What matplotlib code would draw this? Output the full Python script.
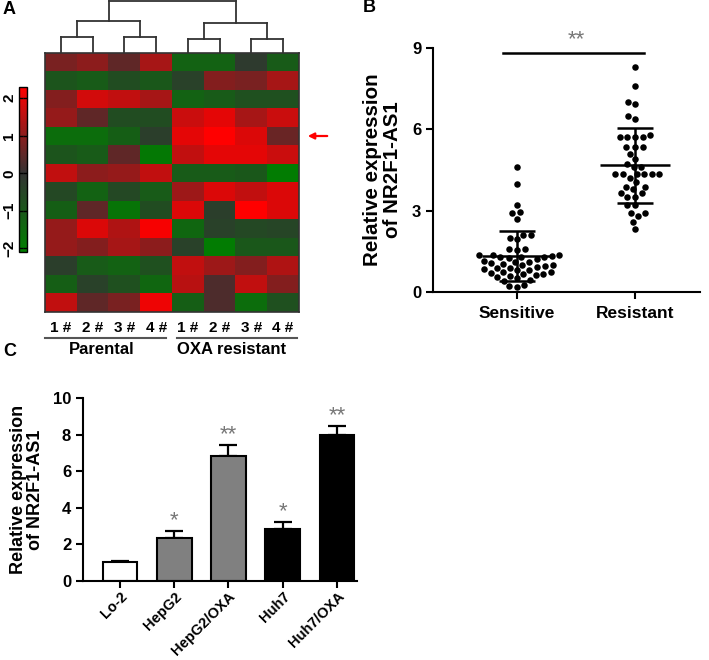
import numpy as np
import matplotlib.pyplot as plt
from matplotlib.colors import LinearSegmentedColormap

plt.rcParams['font.family'] = ['Liberation Sans', 'DejaVu Sans']
plt.rcParams['font.weight'] = 'bold'
plt.rcParams['axes.labelweight'] = 'bold'

W, H = 709, 660

# ---- panel A: heatmap values (14 lncRNAs x 8 samples)
heat = np.array([
    [0.8, 1.0, 0.5, 1.3, -1.3, -1.3, -0.2, -1.1],
    [-0.9, -1.1, -0.7, -1.0, -0.4, 0.9, 0.8, 1.3],
    [0.9, 1.8, 1.6, 1.3, -1.3, -1.1, -0.8, -0.8],
    [1.1, 0.5, -0.7, -0.7, 1.7, 2.0, 1.3, 1.7],
    [-1.6, -1.6, -1.2, -0.3, 2.0, 2.3, 1.9, 0.6],
    [-0.9, -1.1, 0.5, -1.9, 1.6, 2.0, 2.0, 1.7],
    [1.6, 1.0, 1.1, 1.6, -1.1, -1.1, -1.0, -2.0],
    [-0.6, -1.3, -0.6, -1.1, 1.2, 1.9, 1.6, 1.9],
    [-1.2, 0.5, -1.8, -0.7, 1.9, -0.3, 2.3, 1.9],
    [1.1, 1.9, 1.4, 2.2, -1.4, -0.4, -0.6, -0.5],
    [1.1, 0.9, 1.3, 1.0, -0.4, -2.0, -1.0, -1.0],
    [-0.3, -1.1, -1.3, -0.8, 1.6, 1.2, 0.9, 1.4],
    [-1.2, -0.4, -0.8, -1.4, 1.5, 0.3, 1.6, 0.9],
    [1.6, 0.5, 0.8, 2.1, -1.2, 0.3, -1.6, -0.8],
])
sample_labels = ['1 #', '2 #', '3 #', '4 #', '1 #', '2 #', '3 #', '4 #']
group_labels = ['Parental', 'OXA resistant']
cbar_ticks = [-2, -1, 0, 1, 2]
# dendrogram merges: (node a, node b, height); leaves are 0..7
merges = [(0, 1, 16), (2, 3, 16), (4, 5, 14), (6, 7, 14),
          (8, 9, 32), (10, 11, 30), (12, 13, 52)]

# ---- panel B: individual samples
groups_b = ['Sensitive', 'Resistant']
sensitive = [4.62, 4.0, 3.21, 2.95, 2.9, 2.69, 2.1, 2.12, 1.95, 2.0, 1.6, 1.58,
             1.56, 1.38, 1.36, 1.35, 1.33, 1.3, 1.3, 1.28, 1.25, 1.2, 1.15, 1.12,
             1.1, 1.08, 1.05, 1.0, 1.0, 0.95, 0.92, 0.9, 0.88, 0.85, 0.82, 0.8,
             0.75, 0.72, 0.7, 0.68, 0.65, 0.62, 0.6, 0.55, 0.5, 0.45, 0.4, 0.25,
             0.22, 0.2]
resistant = [8.31, 7.61, 7.02, 6.92, 6.39, 6.49, 5.79, 5.72, 5.72, 5.72, 5.72,
             5.34, 5.34, 5.34, 5.09, 4.89, 4.71, 4.6, 4.6, 4.34, 4.34, 4.34, 4.34,
             4.34, 4.34, 4.22, 4.05, 3.89, 3.89, 3.79, 3.64, 3.64, 3.52, 3.52,
             3.21, 3.21, 2.9, 2.9, 2.8, 2.59, 2.32]

# ---- panel C: cell lines
cells = ['Lo-2', 'HepG2', 'HepG2/OXA', 'Huh7', 'Huh7/OXA']
expr = [1.04, 2.33, 6.85, 2.84, 7.96]
err = [0.05, 0.40, 0.58, 0.40, 0.51]
bar_colors = ['white', '#808080', '#808080', 'black', 'black']
stars = ['', '*', '**', '*', '**']


def rect(x0, y0, x1, y1):
    # pixel box (top-left origin) -> figure fraction
    return [x0 / W, 1 - y1 / H, (x1 - x0) / W, (y1 - y0) / H]


def swarm(vals, d, sy, sx):
    # simple beeswarm: offsets (data units) so dots sit d px apart
    placed = []
    out = np.zeros(len(vals))
    order = np.argsort(vals)
    for i in order:
        y = vals[i] * sy
        bad = []
        for (px, py) in placed:
            dy = abs(py - y)
            if dy < d:
                w = np.sqrt(d * d - dy * dy)
                bad.append((px - w, px + w))
        cands = [0.0] + [b for iv in bad for b in iv]
        cands.sort(key=abs)
        for c in cands:
            if all(not (lo + 1e-6 < c < hi - 1e-6) for lo, hi in bad):
                break
        placed.append((c, y))
        out[i] = c / sx
    return out


fig = plt.figure(figsize=(W / 100, H / 100), dpi=100)

# ================= A
cmap = LinearSegmentedColormap.from_list(
    'gbr', [(0.0, (0, 0.5, 0)), (2.1 / 4.4, (0.2, 0.2, 0.2)), (1.0, (1, 0, 0))])
axh = fig.add_axes(rect(45, 53, 299, 312))
im = axh.imshow(heat, cmap=cmap, vmin=-2.1, vmax=2.3, aspect='auto',
                extent=(0, 8, 14, 0), interpolation='nearest')
axh.set_xticks([])
axh.set_yticks([])
for s in axh.spines.values():
    s.set_color('#333333')
    s.set_linewidth(1.2)

axd = fig.add_axes(rect(45, 0, 299, 53))
xs = {i: i + 0.5 for i in range(8)}
hs = {i: 0 for i in range(8)}
for k, (a, b, h) in enumerate(merges):
    n = 8 + k
    axd.plot([xs[a], xs[a]], [hs[a], h], color='#333333', lw=1.3)
    axd.plot([xs[b], xs[b]], [hs[b], h], color='#333333', lw=1.3)
    axd.plot([xs[a], xs[b]], [h, h], color='#333333', lw=1.3)
    xs[n] = (xs[a] + xs[b]) / 2
    hs[n] = h
axd.set_xlim(0, 8)
axd.set_ylim(0, 53)
axd.axis('off')

cax = fig.add_axes(rect(19, 87, 27, 252))
cb = fig.colorbar(im, cax=cax, ticks=cbar_ticks)
cb.outline.set_linewidth(1)
cax.yaxis.set_ticks_position('both')
cax.tick_params(axis='y', direction='in', length=3, width=1,
                labelleft=True, labelright=False, labelsize=11, pad=2)
cax.set_yticklabels(['\u22122', '\u22121', '0', '1', '2'], rotation=90,
                    va='center', fontweight='bold')

for i, lab in enumerate(sample_labels):
    fig.text((45 + 31.75 * (i + 0.5)) / W, 1 - 328 / H, lab, ha='center',
             va='center', fontsize=11, fontweight='bold')
fig.add_artist(plt.Line2D([45 / W, 166 / W], [1 - 338 / H] * 2,
                          color='#555555', lw=1.5))
fig.add_artist(plt.Line2D([177 / W, 297 / W], [1 - 338 / H] * 2,
                          color='#555555', lw=1.5))
fig.text(102 / W, 1 - 349 / H, group_labels[0], ha='center', va='center',
         fontsize=12, fontweight='bold')
fig.text(232 / W, 1 - 349 / H, group_labels[1], ha='center', va='center',
         fontsize=12, fontweight='bold')
axh.annotate('', xy=(305, H - 136), xycoords='figure pixels',
             xytext=(330, H - 136), textcoords='figure pixels',
             arrowprops=dict(arrowstyle='-|>', color='red', lw=1.6,
                             mutation_scale=9))
fig.text(3 / W, 1 - 9 / H, 'A', fontsize=13, fontweight='bold', va='center')

# ================= B
axb = fig.add_axes(rect(433, 48, 700, 292))
sy_b, sx_b = 244 / 9, 118.0
for k, vals in enumerate([sensitive, resistant]):
    vals = np.array(vals)
    off = swarm(vals, 7.6, sy_b, sx_b)
    axb.scatter(k + off, vals, s=22, color='black', zorder=3, linewidths=0)
    m, sd = vals.mean(), vals.std(ddof=1)
    axb.hlines(m, k - 0.3, k + 0.3, color='black', lw=1.8, zorder=4)
    axb.hlines([m - sd, m + sd], k - 0.155, k + 0.155, color='black', lw=1.8,
               zorder=4)
    axb.vlines(k, m - sd, m + sd, color='black', lw=1.8, zorder=4)
axb.plot([-0.12, 1.08], [8.82, 8.82], color='black', lw=1.8, clip_on=False)
axb.text(0.5, 9.3, '**', ha='center', va='center', fontsize=16,
         color='#777777', fontweight='normal')
axb.set_xlim(-0.712, 1.551)
axb.set_ylim(0, 9)
axb.set_yticks([0, 3, 6, 9])
axb.set_xticks([0, 1])
axb.set_xticklabels(groups_b, fontsize=12.5, fontweight='bold')
axb.tick_params(axis='y', labelsize=12, width=1.5, length=5)
axb.tick_params(axis='x', width=1.5, length=5, pad=5)
for lab in axb.get_yticklabels():
    lab.set_fontweight('bold')
axb.spines['top'].set_visible(False)
axb.spines['right'].set_visible(False)
axb.spines['left'].set_linewidth(1.5)
axb.spines['bottom'].set_linewidth(1.5)
axb.set_ylabel('Relative expression\nof NR2F1-AS1', fontsize=14.8,
               fontweight='bold', labelpad=7, linespacing=1.05)
fig.text(363 / W, 1 - 8 / H, 'B', fontsize=13, fontweight='bold', va='center')

# ================= C
axc = fig.add_axes(rect(83, 398, 357, 581))
xc = np.arange(len(cells))
axc.bar(xc, expr, width=0.64, color=bar_colors, edgecolor='black', lw=1.5,
        zorder=2)
axc.errorbar(xc, expr, yerr=[np.zeros(len(err)), err], fmt='none',
             ecolor='black', elinewidth=1.6, capsize=6.5, capthick=1.6,
             zorder=1)
for x, v, e, st in zip(xc, expr, err, stars):
    if st:
        axc.text(x, v + e - 0.02, st, ha='center', va='bottom', fontsize=16,
                 color='#777777', fontweight='normal')
axc.set_xlim(-0.68, 4.37)
axc.set_ylim(0, 10)
axc.set_yticks(range(0, 11, 2))
axc.set_xticks(xc)
axc.set_xticklabels(cells, rotation=45, ha='right', rotation_mode='anchor',
                    fontsize=10.5, fontweight='bold')
axc.tick_params(axis='y', labelsize=12, width=1.5, length=5)
axc.tick_params(axis='x', width=1.5, length=5, pad=1)
for lab in axc.get_yticklabels():
    lab.set_fontweight('bold')
axc.spines['top'].set_visible(False)
axc.spines['right'].set_visible(False)
axc.spines['left'].set_linewidth(1.5)
axc.spines['bottom'].set_linewidth(1.5)
axc.set_ylabel('Relative expression\nof NR2F1-AS1', fontsize=13,
               fontweight='bold', labelpad=6, linespacing=1.05)
fig.text(3 / W, 1 - 352 / H, 'C', fontsize=13, fontweight='bold', va='center')

fig.savefig('out.png', dpi=100)
